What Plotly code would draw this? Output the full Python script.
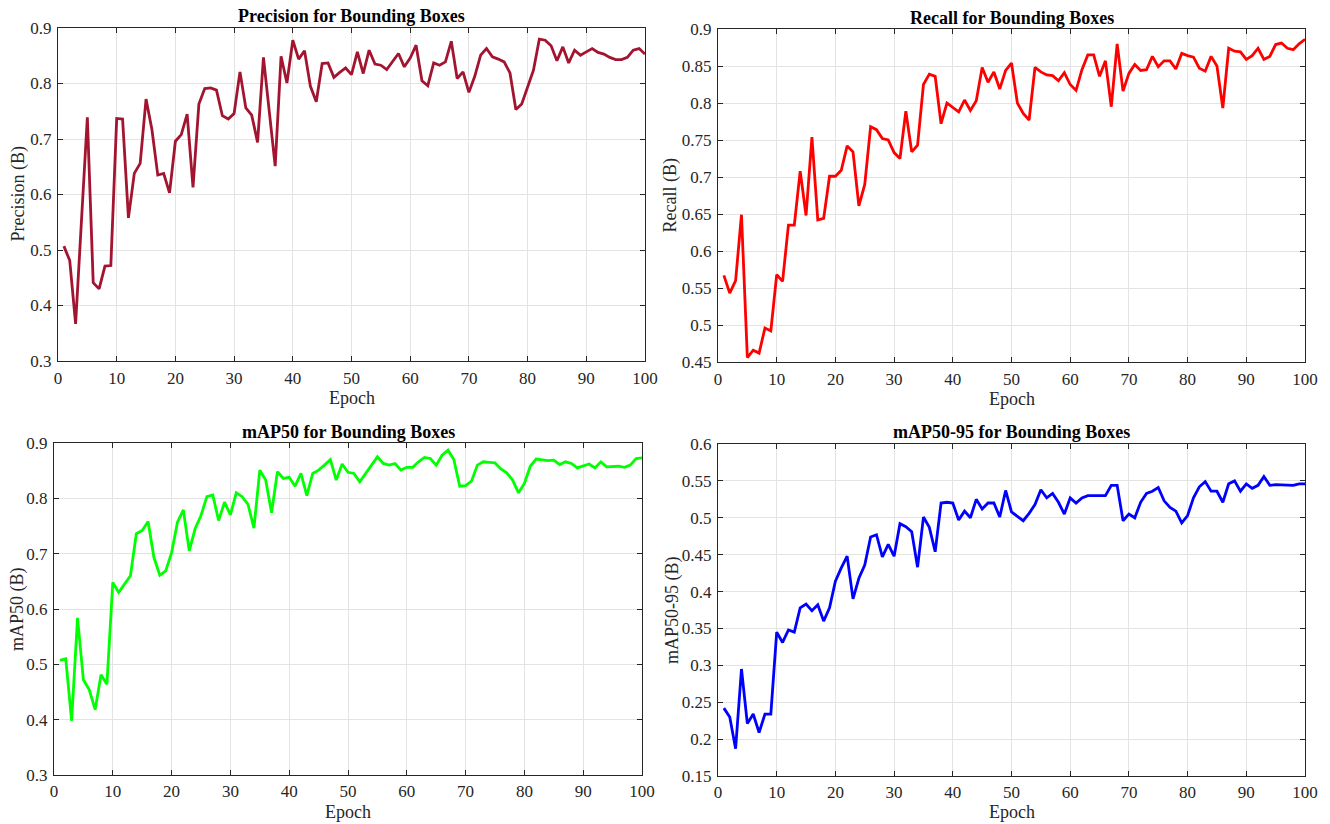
import plotly.graph_objects as go

epochs = list(range(1, 101))

precision = [0.507, 0.481, 0.367, 0.555, 0.739, 0.441, 0.430, 0.471, 0.472, 0.737,
             0.736, 0.558, 0.638, 0.656, 0.772, 0.717, 0.635, 0.638, 0.603, 0.696,
             0.708, 0.745, 0.613, 0.763, 0.791, 0.792, 0.788, 0.742, 0.736, 0.746,
             0.821, 0.756, 0.743, 0.694, 0.847, 0.749, 0.651, 0.849, 0.801, 0.878,
             0.844, 0.859, 0.795, 0.767, 0.836, 0.837, 0.811, 0.820, 0.828, 0.816,
             0.857, 0.818, 0.860, 0.835, 0.833, 0.825, 0.839, 0.854, 0.830, 0.846,
             0.869, 0.805, 0.796, 0.837, 0.833, 0.839, 0.876, 0.809, 0.821, 0.784,
             0.813, 0.851, 0.863, 0.848, 0.844, 0.839, 0.819, 0.753, 0.763, 0.795,
             0.824, 0.880, 0.878, 0.868, 0.841, 0.866, 0.837, 0.860, 0.851, 0.857,
             0.863, 0.856, 0.853, 0.847, 0.843, 0.843, 0.847, 0.860, 0.863, 0.853]

recall = [0.567, 0.543, 0.560, 0.649, 0.456, 0.466, 0.462, 0.496, 0.492, 0.568,
          0.559, 0.635, 0.635, 0.708, 0.648, 0.754, 0.642, 0.644, 0.701, 0.701,
          0.709, 0.742, 0.734, 0.661, 0.690, 0.768, 0.764, 0.752, 0.750, 0.733,
          0.725, 0.789, 0.734, 0.743, 0.825, 0.839, 0.836, 0.772, 0.800, 0.794,
          0.788, 0.804, 0.790, 0.803, 0.848, 0.828, 0.842, 0.819, 0.844, 0.854,
          0.800, 0.786, 0.777, 0.848, 0.842, 0.838, 0.837, 0.830, 0.841, 0.825,
          0.817, 0.845, 0.865, 0.865, 0.836, 0.857, 0.795, 0.880, 0.816, 0.840,
          0.852, 0.844, 0.845, 0.863, 0.849, 0.857, 0.857, 0.846, 0.867, 0.864,
          0.862, 0.847, 0.843, 0.863, 0.850, 0.793, 0.874, 0.870, 0.869, 0.859,
          0.864, 0.874, 0.859, 0.863, 0.879, 0.881, 0.874, 0.872, 0.880, 0.886]

map50 = [0.507, 0.510, 0.398, 0.584, 0.472, 0.454, 0.418, 0.481, 0.464, 0.648,
         0.630, 0.645, 0.660, 0.736, 0.742, 0.758, 0.693, 0.661, 0.669, 0.702,
         0.757, 0.779, 0.705, 0.745, 0.769, 0.803, 0.806, 0.760, 0.793, 0.770,
         0.810, 0.803, 0.789, 0.746, 0.851, 0.833, 0.774, 0.848, 0.836, 0.838,
         0.822, 0.845, 0.805, 0.845, 0.851, 0.860, 0.870, 0.833, 0.862, 0.847,
         0.845, 0.830, 0.845, 0.861, 0.875, 0.863, 0.860, 0.863, 0.851, 0.856,
         0.856, 0.866, 0.874, 0.872, 0.860, 0.878, 0.887, 0.870, 0.822, 0.823,
         0.831, 0.860, 0.866, 0.865, 0.864, 0.853, 0.846, 0.833, 0.810, 0.827,
         0.858, 0.871, 0.870, 0.868, 0.869, 0.861, 0.866, 0.863, 0.855, 0.858,
         0.862, 0.855, 0.866, 0.857, 0.858, 0.858, 0.856, 0.860, 0.872, 0.873]

map50_95 = [0.242, 0.230, 0.187, 0.295, 0.221, 0.234, 0.209, 0.234, 0.234, 0.345,
            0.331, 0.348, 0.345, 0.378, 0.383, 0.374, 0.382, 0.360, 0.378, 0.414,
            0.432, 0.448, 0.390, 0.418, 0.436, 0.474, 0.477, 0.447, 0.464, 0.448,
            0.492, 0.488, 0.481, 0.433, 0.501, 0.487, 0.454, 0.520, 0.521, 0.520,
            0.497, 0.509, 0.500, 0.525, 0.512, 0.520, 0.520, 0.501, 0.537, 0.508,
            0.502, 0.496, 0.506, 0.518, 0.538, 0.527, 0.533, 0.521, 0.505, 0.527,
            0.520, 0.527, 0.530, 0.530, 0.531, 0.530, 0.544, 0.544, 0.496, 0.505,
            0.500, 0.521, 0.533, 0.536, 0.541, 0.523, 0.514, 0.509, 0.493, 0.503,
            0.527, 0.542, 0.549, 0.536, 0.536, 0.521, 0.546, 0.550, 0.536, 0.546,
            0.540, 0.544, 0.556, 0.544, 0.545, 0.545, 0.544, 0.544, 0.546, 0.546]

titles = ["Precision for Bounding Boxes", "Recall for Bounding Boxes",
          "mAP50 for Bounding Boxes", "mAP50-95 for Bounding Boxes"]
ylabels = ["Precision (B)", "Recall (B)", "mAP50 (B)", "mAP50-95 (B)"]
xlabel = "Epoch"
colors = ["#A2142F", "#FF0000", "#00FF00", "#0000FF"]

x_ticks = [0, 10, 20, 30, 40, 50, 60, 70, 80, 90, 100]
y_ticks_p = [0.3, 0.4, 0.5, 0.6, 0.7, 0.8, 0.9]
y_text_p = ["0.3", "0.4", "0.5", "0.6", "0.7", "0.8", "0.9"]
y_ticks_r = [0.45, 0.5, 0.55, 0.6, 0.65, 0.7, 0.75, 0.8, 0.85, 0.9]
y_text_r = ["0.45", "0.5", "0.55", "0.6", "0.65", "0.7", "0.75", "0.8", "0.85", "0.9"]
y_ticks_m = [0.3, 0.4, 0.5, 0.6, 0.7, 0.8, 0.9]
y_text_m = ["0.3", "0.4", "0.5", "0.6", "0.7", "0.8", "0.9"]
y_ticks_m95 = [0.15, 0.2, 0.25, 0.3, 0.35, 0.4, 0.45, 0.5, 0.55, 0.6]
y_text_m95 = ["0.15", "0.2", "0.25", "0.3", "0.35", "0.4", "0.45", "0.5", "0.55", "0.6"]

series = [precision, recall, map50, map50_95]
yticks = [(y_ticks_p, y_text_p), (y_ticks_r, y_text_r), (y_ticks_m, y_text_m), (y_ticks_m95, y_text_m95)]
yranges = [[0.3, 0.9], [0.45, 0.9], [0.3, 0.9], [0.15, 0.6]]

# the page's body margin is removed below, so the figure fills the window
W, H = 1330, 824
boxes = [(58, 28, 645, 361), (718, 29, 1305, 362), (54, 443, 642, 775), (718, 444, 1305, 776)]
ylab_x = [18, 670, 17, 672]
xlab_y = [398, 399, 812, 812]
x_standoff = [2, 2, 1, 1]


def px(xp):
    return xp / W


def py(yp):
    return 1 - yp / H


FONT = "Liberation Serif"
AX = "#262626"

fig = go.Figure()
annotations = []
layout = {}
for i in range(4):
    sfx = "" if i == 0 else str(i + 1)
    l, t, r, b = boxes[i]
    fig.add_trace(go.Scatter(x=epochs, y=series[i], mode="lines",
                             line=dict(color=colors[i], width=2.8),
                             xaxis="x" + sfx, yaxis="y" + sfx, showlegend=False))
    common = dict(showline=True, linecolor=AX, linewidth=1, mirror="ticks",
                  ticks="inside", ticklen=5, tickcolor=AX, tickwidth=1,
                  showgrid=True, gridcolor="#E3E3E3", gridwidth=1, zeroline=False,
                  automargin=False,
                  tickfont=dict(family=FONT, size=17, color=AX))
    layout["xaxis" + sfx] = dict(common, domain=[px(l), px(r)], anchor="y" + sfx,
                                 range=[0, 100], tickvals=x_ticks, ticklabelstandoff=x_standoff[i],
                                 ticktext=[str(v) for v in x_ticks])
    layout["yaxis" + sfx] = dict(common, domain=[py(b), py(t)], anchor="x" + sfx,
                                 range=yranges[i], tickvals=yticks[i][0], ticktext=yticks[i][1],
                                 ticklabelstandoff=2)
    cx = px((l + r) / 2)
    annotations.append(dict(text="<b>" + titles[i] + "</b>", x=cx, y=py(t - 11.5),
                            xref="paper", yref="paper", xanchor="center", yanchor="middle",
                            showarrow=False,
                            font=dict(family=FONT, size=18, color="#000000")))
    annotations.append(dict(text=xlabel, x=cx, y=py(xlab_y[i]), xref="paper", yref="paper",
                            xanchor="center", yanchor="middle", showarrow=False,
                            font=dict(family=FONT, size=18, color=AX)))
    annotations.append(dict(text=ylabels[i], x=px(ylab_x[i]), y=py((t + b) / 2),
                            xref="paper", yref="paper", xanchor="center", yanchor="middle",
                            textangle=-90, showarrow=False,
                            font=dict(family=FONT, size=18, color=AX)))

fig.update_layout(width=W, height=H, margin=dict(l=0, r=0, t=0, b=0, pad=0, autoexpand=False),
                  paper_bgcolor="white", plot_bgcolor="white", hovermode=False,
                  annotations=annotations, **layout)
fig.write_html("out.html", config={"displayModeBar": False},
               post_script="document.body.style.margin='0';document.body.style.overflow='hidden';")
